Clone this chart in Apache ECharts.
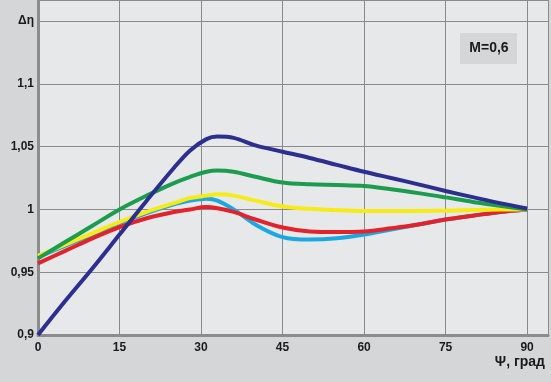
<!DOCTYPE html>
<html><head><meta charset="utf-8">
<script src="https://cdn.jsdelivr.net/npm/echarts@6/dist/echarts.min.js"></script>
<style>html,body{margin:0;padding:0;background:#d4d6d8}#c{width:551px;height:382px}</style>
</head><body><div id="c"></div>
<script>
const psi = [0,5,10,15,20,25,28,31,33,36,40,45,50,55,60,65,70,75,80,85,90];
const cyan = [0.962,0.971,0.98,0.989,0.997,1.004,1.007,1.0085,1.007,1.0,0.988,0.978,0.976,0.977,0.980,0.984,0.988,0.992,0.995,0.998,1.0];
const red = [0.957,0.967,0.977,0.986,0.993,0.998,1.0,1.002,1.001,0.998,0.992,0.9856,0.9825,0.982,0.9825,0.985,0.988,0.992,0.995,0.998,1.0];
const yellow = [0.963,0.972,0.981,0.99,0.998,1.005,1.009,1.011,1.012,1.011,1.007,1.0024,1.0005,0.9993,0.9987,0.9987,0.9988,0.999,0.9995,1.0,1.0];
const green = [0.961,0.974,0.987,1.0,1.011,1.021,1.026,1.030,1.031,1.030,1.026,1.0214,1.020,1.0195,1.0187,1.016,1.013,1.0096,1.006,1.003,1.0];
const blue = [0.9,0.927,0.953,0.98,1.007,1.033,1.047,1.056,1.058,1.057,1.051,1.046,1.041,1.0355,1.030,1.025,1.020,1.0147,1.0098,1.005,1.0008];
const yTickTop = 1.15, yTopLabel = 'Δη';
const xName = 'Ψ, град';
const boxText = 'M=0,6';

const chart = echarts.init(document.getElementById('c'), null, {renderer:'canvas'});
const font = '"Liberation Sans",Arial,sans-serif';
function mk(arr){ return psi.map((x,i)=>[x,arr[i]]); }
function ser(name, arr, color){
  return {name, type:'line', data:mk(arr), smooth:0.35, symbol:'none',
    lineStyle:{color, width:4}, z:3};
}
chart.setOption({
  animation:false,
  grid:{left:38, right:0, top:0, bottom:47, show:true, backgroundColor:'#e7e8ea', borderWidth:0},
  xAxis:{type:'value', min:0, max:93.85, interval:15,
    axisLine:{show:true, onZero:false, lineStyle:{color:'#8c8c8c', width:3}},
    axisTick:{show:false},
    splitLine:{show:true, lineStyle:{color:'#8a8a8a', width:1}},
    axisLabel:{margin:7, color:'#1a1a1a', fontFamily:font, fontWeight:'bold', fontSize:12,
      formatter:v=> v>90.5 ? '' : String(v)}
  },
  yAxis:{type:'value', min:0.9, max:1.1668, interval:0.05,
    axisLine:{show:true, onZero:false, lineStyle:{color:'#8c8c8c', width:3}},
    axisTick:{show:false},
    splitLine:{show:true, lineStyle:{color:'#8a8a8a', width:1}},
    axisLabel:{margin:4, color:'#1a1a1a', fontFamily:font, fontWeight:'bold', fontSize:12,
      formatter:v=>{
        if (Math.abs(v-yTickTop)<1e-6) return yTopLabel;
        if (v>yTickTop+1e-6) return '';
        return String(Math.round(v*1000)/1000).replace('.',',');
      }}
  },
  series:[
    ser('cyan', cyan, '#1ba8e0'),
    ser('red', red, '#e3222b'),
    ser('yellow', yellow, '#f7eb17'),
    ser('green', green, '#1c9c4f'),
    ser('blue', blue, '#2c2f8e')
  ],
  graphic:[
    {type:'rect', shape:{x:460,y:33,width:57,height:31}, style:{fill:'#d4d6d8'}, z:10},
    {type:'text', x:489, y:48.5, style:{text:boxText, fill:'#1a1a1a', font:'bold 14px '+font, textAlign:'center', textVerticalAlign:'middle'}, z:11},
    {type:'text', x:545, y:362, style:{text:xName, fill:'#1a1a1a', font:'bold 14px '+font, textAlign:'right', textVerticalAlign:'middle'}, z:11}
  ]
});
</script></body></html>
